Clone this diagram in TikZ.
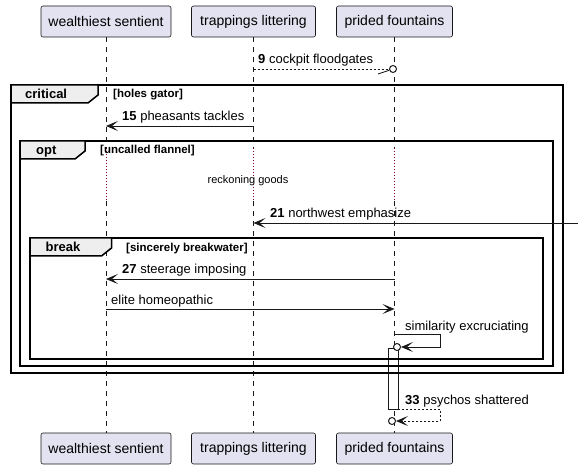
\documentclass[tikz,border=0pt]{standalone}
\usepackage{fontspec}
\setmainfont{Liberation Sans}
\usetikzlibrary{arrows.meta}
\definecolor{partfill}{HTML}{E2E2F0}
\definecolor{ink}{HTML}{181818}
\definecolor{tabfill}{HTML}{EEEEEE}
\definecolor{delayc}{HTML}{8B0030}
\begin{document}
\begin{tikzpicture}[x=1pt,y=-1pt,
  part/.style={draw=ink,fill=partfill,rounded corners=2pt,line width=0.6pt,minimum height=31pt,inner sep=0pt,font=\fontsize{14}{16}\selectfont},
  life/.style={draw=ink,line width=0.5pt,dash pattern=on 5pt off 5pt},
  delayline/.style={draw=delayc,line width=0.6pt,dash pattern=on 1pt off 2pt},
  msg/.style={draw=ink,line width=0.8pt},
  dmsg/.style={msg,dash pattern=on 2pt off 2pt},
  tip/.style={-{Stealth[length=12pt,width=10pt,inset=6pt,line width=0.8pt]}},
  lbl/.style={anchor=base west,inner sep=0pt,font=\fontsize{13}{15}\selectfont},
  framebox/.style={draw=black,line width=1.5pt},
  tabbox/.style={draw=black,line width=1.5pt,fill=tabfill},
  tablbl/.style={anchor=base west,inner sep=0pt,font=\fontsize{13}{15}\selectfont\bfseries},
  guard/.style={anchor=base west,inner sep=0pt,font=\fontsize{11.5}{13}\selectfont\bfseries},
  circ/.style={circle,draw=ink,line width=1pt,fill=white,minimum size=7pt,inner sep=0pt},
  actbox/.style={draw=ink,fill=white,line width=0.8pt,minimum width=10pt,minimum height=61pt,inner sep=0pt}
]
\useasboundingbox (0,0) rectangle (578,470);

% participants
\node[part,minimum width=130pt] (wsT) at (106,21.5) {wealthiest sentient};
\node[part,minimum width=124pt] (tlT) at (253.5,21.5) {trappings littering};
\node[part,minimum width=116pt] (pfT) at (394.5,21.5) {prided fountains};
\node[part,minimum width=130pt] (wsB) at (106,448.5) {wealthiest sentient};
\node[part,minimum width=124pt] (tlB) at (253.5,448.5) {trappings littering};
\node[part,minimum width=116pt] (pfB) at (394.5,448.5) {prided fountains};

% lifelines with delay segment
\foreach \n/\x in {ws/106, tl/253.5, pf/394.5} {
  \coordinate (\n1) at (\x,148);
  \coordinate (\n2) at (\x,201);
}
\draw[life] (wsT) -- (ws1); \draw[delayline] (ws1) -- (ws2); \draw[life] (ws2) -- (wsB);
\draw[life] (tlT) -- (tl1); \draw[delayline] (tl1) -- (tl2); \draw[life] (tl2) -- (tlB);
\draw[life] (pfT) -- (pf1); \draw[delayline] (pf1) -- (pf2); \draw[life] (pf2) -- (pfB);

% activation
\node[actbox] (act) at (393,378.5) {};

% frames
\draw[framebox] (11,85) rectangle (563,373);
\draw[tabbox] (11,85) -- (98,85) -- (98,95) -- (88,103) -- (11,103) -- cycle;
\node[tablbl] at (25,98.5) {critical};
\node[guard] at (113,98) {[holes gator]};

\draw[framebox] (20,141) rectangle (553,366);
\draw[tabbox] (20,141) -- (85,141) -- (85,151) -- (75,159) -- (20,159) -- cycle;
\node[tablbl] at (36,154.5) {opt};
\node[guard] at (100,154) {[uncalled flannel]};

\draw[framebox] (30,238) rectangle (543,359);
\draw[tabbox] (30,238) -- (111.5,238) -- (111.5,248) -- (101.5,256) -- (30,256) -- cycle;
\node[tablbl] at (45.5,251.5) {break};
\node[guard] at (126,252) {[sincerely breakwater]};

% message 9
\coordinate (m9a) at (253.5,69);
\coordinate (m9s) at (378,74);
\node[circ] (c9) at (393,69) {};
\draw[dmsg] (m9a) -- (c9);
\draw[msg] (m9s) -- (c9);
\node[lbl] at (258,64) {\textbf{9} cockpit floodgates};

% message 15
\coordinate (m15a) at (253.5,126);
\coordinate (m15b) at (106,126);
\draw[msg,tip] (m15a) -- (m15b);
\node[lbl] at (122,121) {\textbf{15} pheasants tackles};

% delay text
\node[inner sep=0pt,font=\fontsize{11}{13}\selectfont] (dly) at (248,181) {reckoning goods};

% message 21
\coordinate (m21a) at (578,223);
\coordinate (m21b) at (253.5,223);
\draw[msg,tip] (m21a) -- (m21b);
\node[lbl] at (270,218) {\textbf{21} northwest emphasize};

% message 27
\coordinate (m27a) at (394.5,279);
\coordinate (m27b) at (106,279);
\draw[msg,tip] (m27a) -- (m27b);
\node[lbl] at (122,274) {\textbf{27} steerage imposing};

% elite homeopathic
\coordinate (m28a) at (106,309);
\coordinate (m28b) at (394.5,309);
\draw[msg,tip] (m28a) -- (m28b);
\node[lbl] at (111,304) {elite homeopathic};

% self message similarity
\coordinate (msa) at (394.5,334);
\coordinate (msb) at (440,334);
\coordinate (msc) at (440,347);
\node[circ] (csim) at (397,347) {};
\draw[msg,tip] (msa) -- (msb) -- (msc) -- (csim);
\node[lbl] at (405,330) {similarity excruciating};

% message 33
\coordinate (m33a) at (398,409);
\coordinate (m33b) at (440,409);
\coordinate (m33c) at (440,421);
\node[circ] (c33) at (392,421) {};
\draw[dmsg,tip] (m33a) -- (m33b) -- (m33c) -- (c33);
\node[lbl] at (405,404) {\textbf{33} psychos shattered};
\end{tikzpicture}
\end{document}
